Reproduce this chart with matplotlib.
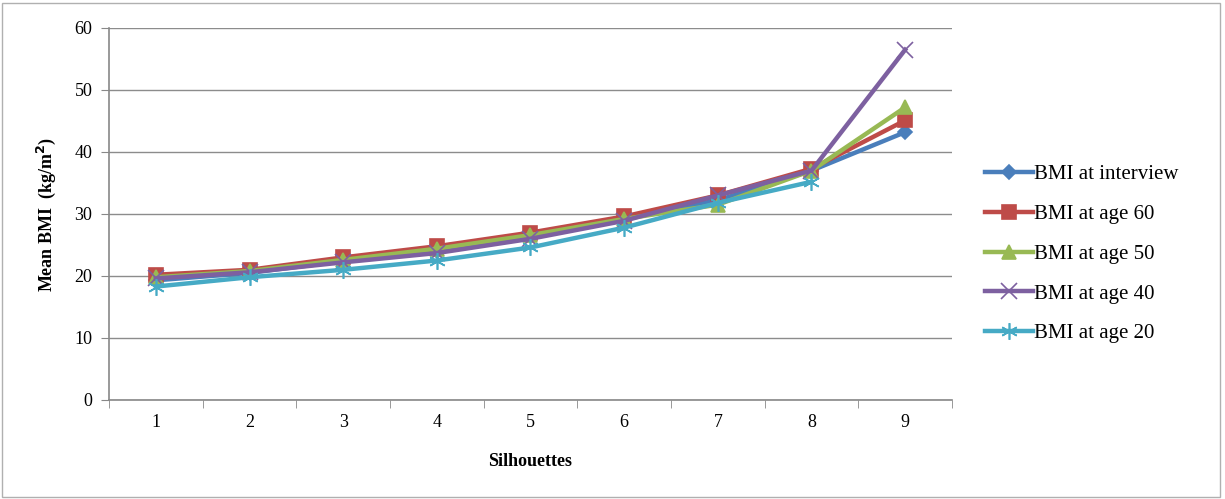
import matplotlib.pyplot as plt
import numpy as np
from matplotlib.patches import Rectangle

plt.rcParams['font.family'] = ['Liberation Serif', 'DejaVu Serif']

# data
silhouettes = [1, 2, 3, 4, 5, 6, 7, 8, 9]
bmi_interview = [19.3, 20.5, 22.4, 24.0, 26.6, 29.5, 32.2, 37.0, 43.2]
bmi_age60 = [20.2, 21.0, 23.0, 24.8, 27.0, 29.6, 33.0, 37.3, 45.1]
bmi_age50 = [19.8, 20.8, 22.6, 24.4, 26.6, 29.2, 31.5, 37.0, 47.2]
bmi_age40 = [19.6, 20.6, 22.2, 23.7, 26.0, 28.9, 33.0, 37.0, 56.5]
bmi_age20 = [18.3, 19.8, 21.0, 22.5, 24.6, 27.8, 31.8, 35.2, np.nan]

series = [
    ("BMI at interview", bmi_interview, "#4a7ebb", "D", 7),
    ("BMI at age 60", bmi_age60, "#be4b48", "s", 10),
    ("BMI at age 50", bmi_age50, "#98b954", "^", 10),
    ("BMI at age 40", bmi_age40, "#7d60a0", "x", 12),
    ("BMI at age 20", bmi_age20, "#46aac5", (6, 2, 0), 12),
]

fig = plt.figure(figsize=(12.25, 4.99), dpi=100)
ax = fig.add_axes([109/1225, 1 - 400/499, (952-109)/1225, (400-28)/499])

for name, vals, col, mk, ms in series:
    ax.plot(silhouettes, vals, color=col, lw=3.2, marker=mk, markersize=ms,
            markeredgecolor=col, markerfacecolor=col, markeredgewidth=1.2,
            label=name)

ax.set_xlim(0.5, 9.5)
ax.set_ylim(0, 60)
ax.set_yticks(range(0, 61, 10))
ax.set_xticks(silhouettes)
ax.set_xticks(np.arange(0.5, 9.6, 1), minor=True)
ax.tick_params(axis='x', which='major', length=0, pad=10, labelsize=13)
ax.tick_params(axis='x', which='minor', length=6, color='#888888', direction='out')
ax.tick_params(axis='y', length=6, color='#888888', labelsize=13, pad=6)
ax.grid(axis='y', color='#8c8c8c', lw=1)
ax.set_axisbelow(True)
for s in ['top', 'right']:
    ax.spines[s].set_visible(False)
for s in ['left', 'bottom']:
    ax.spines[s].set_color('#888888')
    ax.spines[s].set_linewidth(1.2)

ax.set_xlabel("Silhouettes", fontsize=13, fontweight='bold', labelpad=16)
ax.set_ylabel("Mean BMI  (kg/m$^\\mathbf{2}$)", fontsize=13, fontweight='bold', labelpad=12)

ax.legend(loc='center left', bbox_to_anchor=(977/1225, 1 - 254/499), bbox_transform=fig.transFigure,
          frameon=False, fontsize=15, handlelength=2.3, handletextpad=0.05,
          labelspacing=0.97, borderaxespad=0)

fig.patches.append(Rectangle((2/1225, 2/499), 1218/1225, 494/499, transform=fig.transFigure,
                             fill=False, edgecolor='#b0b0b0', lw=1))

fig.savefig("out.png", dpi=100)
